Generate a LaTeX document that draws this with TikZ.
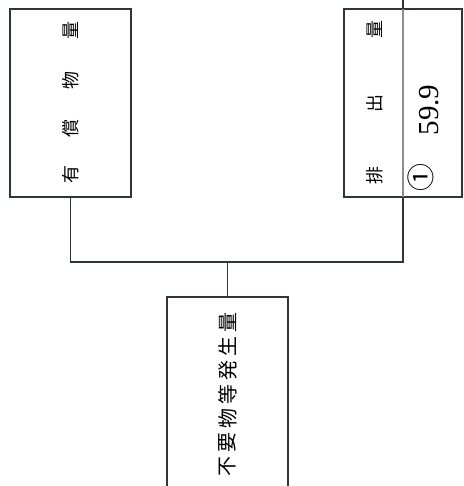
\documentclass[tikz,border=0pt]{standalone}
\usepackage{fontspec}
\setmainfont{Liberation Serif}
\newfontfamily\jp{Noto Sans CJK JP}
\definecolor{sen}{HTML}{2F3639}
\definecolor{usuzumi}{HTML}{8A8F92}
\tikzset{
  box/.style={draw=sen, line width=1.8pt, inner sep=0pt, outer sep=0pt},
  kanji/.style={font=\jp\fontsize{18}{18}\selectfont, rotate=90, inner sep=0pt},
  line/.style={draw=sen, line width=1.8pt},
  divider/.style={draw=usuzumi, line width=1.4pt}
}
\begin{document}
\begin{tikzpicture}[x=1pt,y=-1pt]
\clip (0,0) rectangle (463,486);
% boxes
\node[box, minimum width=121pt, minimum height=188pt] (yusho) at (70.5,103) {};
\node[box, minimum width=118pt, minimum height=188pt] (haishutsu) at (403,103) {};
\node[box, minimum width=121pt, minimum height=223pt] (hassei) at (227.5,408.5) {};
% texts
\foreach \c/\y in {有/174,償/129,物/81,量/31} \node[kanji] (y\y) at (71,\y) {\c};
\foreach \c/\y in {排/175,出/104,量/30} \node[kanji] (h\y) at (375,\y) {\c};
\foreach \c [count=\i from 0] in {不,要,物,等,発,生,量}
  \node[kanji, font=\jp\fontsize{20}{20}\selectfont] (s\i) at (227.5,466-24*\i) {\c};
\node[kanji, font=\jp\fontsize{28}{28}\selectfont] (maru) at (421,177) {①};
\node[rotate=90, inner sep=0pt, font=\fontsize{29}{29}\selectfont] (atai) at (429,110) {59.9};
% connectors
\draw[divider] (haishutsu.north) -- (haishutsu.south);
\coordinate (ue) at (403,0);
\coordinate (bunki) at (227.5,262);
\draw[line] (ue) -- (haishutsu.north);
\draw[line] (yusho.south) |- (bunki) -| (haishutsu.south);
\draw[line] (bunki) -- (hassei.north);
\end{tikzpicture}
\end{document}
